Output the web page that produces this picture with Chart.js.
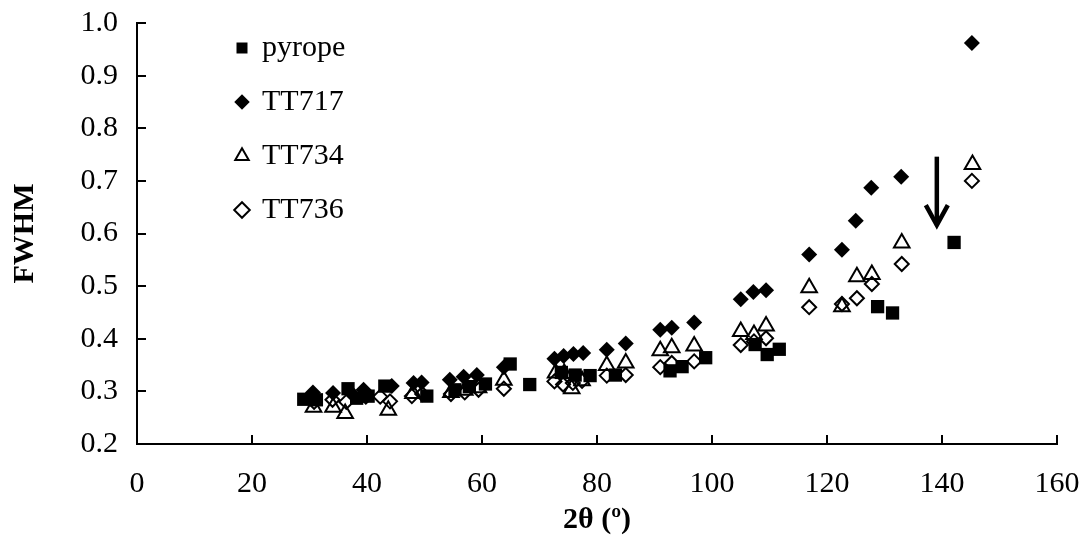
<!DOCTYPE html>
<html>
<head>
<meta charset="utf-8">
<script src="https://cdn.jsdelivr.net/npm/chart.js@4.4.1/dist/chart.umd.min.js"></script>
<style>
html,body{margin:0;padding:0;background:#fff;}
#wrap{width:1084px;height:540px;}
</style>
</head>
<body>
<div id="wrap"><canvas id="c" width="1084" height="540"></canvas></div>
<script>
// ---- data (2θ in degrees, FWHM) ----
const seriesNames = ['pyrope', 'TT717', 'TT734', 'TT736'];

const pyropeX = [29.0, 31.2, 36.7, 38.2, 40.2, 43.1, 50.4, 55.3, 57.8, 60.6, 64.9, 68.3, 73.8, 76.2, 78.8, 83.2, 92.7, 94.8, 98.9, 107.5, 109.6, 111.7, 128.8, 131.4, 142.1];
const pyropeY = [0.285, 0.284, 0.305, 0.287, 0.291, 0.310, 0.291, 0.303, 0.309, 0.314, 0.352, 0.313, 0.336, 0.331, 0.330, 0.331, 0.339, 0.347, 0.364, 0.389, 0.370, 0.380, 0.461, 0.449, 0.583];

const tt717X = [30.6, 34.1, 37.0, 39.4, 44.3, 48.1, 49.5, 54.4, 56.8, 59.1, 63.8, 72.6, 74.2, 75.9, 77.6, 81.7, 85.0, 91.0, 93.0, 96.9, 105.0, 107.2, 109.4, 116.9, 122.6, 125.0, 127.7, 132.9, 145.2];
const tt717Y = [0.298, 0.297, 0.300, 0.303, 0.310, 0.316, 0.317, 0.322, 0.328, 0.331, 0.346, 0.362, 0.367, 0.371, 0.373, 0.379, 0.391, 0.417, 0.421, 0.431, 0.475, 0.489, 0.492, 0.560, 0.569, 0.624, 0.687, 0.708, 0.962];

const tt734X = [30.7, 34.1, 36.2, 39.6, 43.7, 48.0, 54.6, 57.0, 59.4, 63.8, 72.8, 74.3, 75.6, 77.4, 81.7, 85.0, 91.0, 93.0, 96.9, 105.0, 107.3, 109.4, 116.9, 122.6, 125.2, 127.8, 133.0, 145.3];
const tt734Y = [0.270, 0.270, 0.258, 0.290, 0.264, 0.296, 0.298, 0.302, 0.307, 0.321, 0.335, 0.334, 0.305, 0.320, 0.349, 0.354, 0.377, 0.383, 0.386, 0.414, 0.408, 0.424, 0.497, 0.461, 0.518, 0.522, 0.582, 0.731];

const tt736X = [30.8, 34.0, 36.4, 39.8, 42.3, 44.0, 47.8, 49.6, 54.6, 57.0, 59.4, 63.8, 72.6, 74.1, 75.8, 77.4, 81.7, 85.0, 91.0, 93.0, 96.9, 105.0, 107.3, 109.4, 116.9, 122.6, 125.2, 127.8, 133.0, 145.2];
const tt736Y = [0.280, 0.284, 0.280, 0.290, 0.290, 0.281, 0.291, 0.295, 0.295, 0.298, 0.303, 0.305, 0.319, 0.313, 0.316, 0.320, 0.330, 0.331, 0.346, 0.354, 0.357, 0.388, 0.395, 0.401, 0.460, 0.466, 0.477, 0.504, 0.542, 0.700];

// arrow annotation (data units): x, y start, y tip
const arrowX = 139.1;
const arrowY = [0.746, 0.612];

const xTicks = [0, 20, 40, 60, 80, 100, 120, 140, 160];
const yTicks = [0.2, 0.3, 0.4, 0.5, 0.6, 0.7, 0.8, 0.9, 1.0];

const xTitle = '2θ (º)';
const yTitle = 'FWHM';

function pts(xs, ys) { return xs.map((x, i) => ({x: x, y: ys[i]})); }

const FONT = "'Liberation Serif', 'Times New Roman', serif";

const innerTicks = {
  id: 'innerTicks',
  beforeDatasetsDraw(chart) {
    const {ctx, chartArea, scales} = chart;
    ctx.save();
    ctx.strokeStyle = '#000';
    ctx.lineWidth = 2;
    ctx.beginPath();
    yTicks.forEach(v => {
      const y = Math.round(scales.y.getPixelForValue(v));
      ctx.moveTo(chartArea.left, y);
      ctx.lineTo(chartArea.left + 9, y);
    });
    xTicks.forEach(v => {
      const x = Math.round(scales.x.getPixelForValue(v));
      ctx.moveTo(x, chartArea.bottom);
      ctx.lineTo(x, chartArea.bottom - 9);
    });
    ctx.stroke();
    ctx.restore();
  }
};

const arrowPlugin = {
  id: 'arrowPlugin',
  afterDatasetsDraw(chart) {
    const {ctx, scales} = chart;
    const x = scales.x.getPixelForValue(arrowX);
    const y0 = scales.y.getPixelForValue(arrowY[0]);
    const y1 = scales.y.getPixelForValue(arrowY[1]);
    ctx.save();
    ctx.strokeStyle = '#000';
    ctx.lineWidth = 4.5;
    ctx.lineJoin = 'miter';
    ctx.beginPath();
    ctx.moveTo(x, y0);
    ctx.lineTo(x, y1 - 2);
    ctx.stroke();
    ctx.beginPath();
    ctx.moveTo(x - 11, y1 - 22);
    ctx.lineTo(x, y1 - 2);
    ctx.lineTo(x + 11, y1 - 22);
    ctx.stroke();
    ctx.restore();
  }
};

const legendShift = {
  id: 'legendShift',
  afterLayout(chart) {
    const l = chart.legend;
    if (!l) return;
    const dx = 76, dy = 9 + (23 - chart.chartArea.top);
    l.left += dx; l.right += dx; l.top += dy; l.bottom += dy;
  }
};

function zeroPad(s) { s.paddingTop = 0; s.paddingBottom = 0; s.paddingLeft = 0; s.paddingRight = 0; }

new Chart(document.getElementById('c'), {
  type: 'scatter',
  data: {
    datasets: [
      { label: seriesNames[0], data: pts(pyropeX, pyropeY), pointStyle: 'rect', pointRadius: 9.4, pointHoverRadius: 9.4,
        backgroundColor: '#000', borderColor: '#000', borderWidth: 0 },
      { label: seriesNames[1], data: pts(tt717X, tt717Y), pointStyle: 'rectRot', pointRadius: 8, pointHoverRadius: 8,
        backgroundColor: '#000', borderColor: '#000', borderWidth: 0 },
      { label: seriesNames[2], data: pts(tt734X, tt734Y), pointStyle: 'triangle', pointRadius: 9, pointHoverRadius: 9,
        backgroundColor: 'rgba(255,255,255,0)', borderColor: '#000', borderWidth: 2 },
      { label: seriesNames[3], data: pts(tt736X, tt736Y), pointStyle: 'rectRot', pointRadius: 7, pointHoverRadius: 7,
        backgroundColor: 'rgba(255,255,255,0)', borderColor: '#000', borderWidth: 2 }
    ]
  },
  options: {
    responsive: false,
    animation: false,
    events: [],
    layout: { padding: { top: 23, right: 27, left: 0, bottom: 0 } },
    plugins: {
      tooltip: { enabled: false },
      legend: {
        position: 'chartArea',
        align: 'start',
        labels: {
          usePointStyle: true,
          boxWidth: 10,
          boxHeight: 11,
          padding: 24,
          color: '#000',
          font: { family: FONT, size: 30 }
        }
      }
    },
    scales: {
      x: {
        type: 'linear',
        min: 0, max: 160,
        afterFit(s) { s.height = 96; zeroPad(s); },
        afterBuildTicks(s) { s.ticks = xTicks.map(v => ({value: v})); },
        grid: { display: true, drawOnChartArea: false, drawTicks: false },
        border: { display: true, color: '#000', width: 2 },
        ticks: { color: '#000', padding: 22, maxRotation: 0, font: { family: FONT, size: 30 },
                 callback: v => String(v) },
        title: { display: true, text: xTitle, color: '#000', padding: { top: 0, bottom: 2 },
                 font: { family: FONT, size: 30, weight: 'bold' } }
      },
      y: {
        type: 'linear',
        min: 0.2, max: 1.0,
        afterFit(s) { s.width = 137; zeroPad(s); },
        afterBuildTicks(s) { s.ticks = yTicks.map(v => ({value: v})); },
        grid: { display: true, drawOnChartArea: false, drawTicks: false },
        border: { display: true, color: '#000', width: 2 },
        ticks: { color: '#000', padding: 19, font: { family: FONT, size: 30 },
                 callback: v => Number(v).toFixed(1) },
        title: { display: true, text: yTitle, color: '#000', padding: { top: 7, bottom: 0 },
                 font: { family: FONT, size: 30, weight: 'bold' } }
      }
    }
  },
  plugins: [innerTicks, arrowPlugin, legendShift]
});
</script>
</body>
</html>
